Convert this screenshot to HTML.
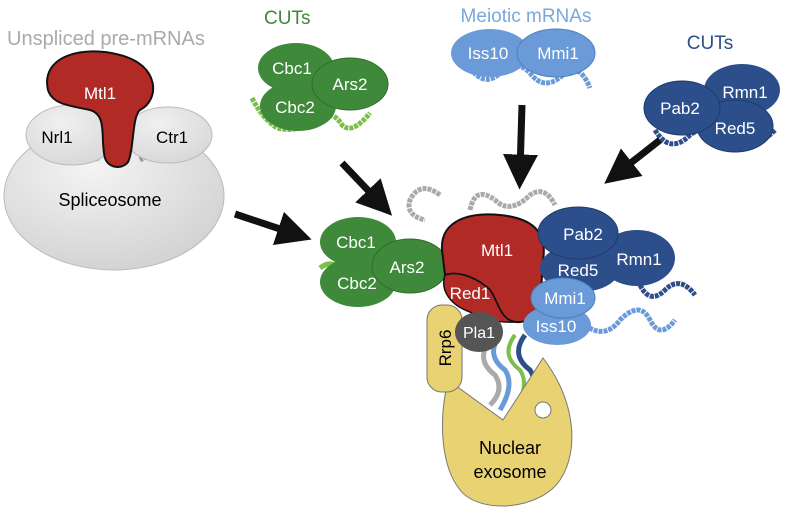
<!DOCTYPE html>
<html><head><style>body{margin:0;background:#fff}svg{display:block}</style></head><body>
<svg width="788" height="520" viewBox="0 0 788 520" xmlns="http://www.w3.org/2000/svg" font-family="Liberation Sans, sans-serif">
<defs>
<radialGradient id="sg" cx="0.4" cy="0.3" r="0.8"><stop offset="0" stop-color="#f4f4f4"/><stop offset="1" stop-color="#cfcfcf"/></radialGradient>
<radialGradient id="ng" cx="0.4" cy="0.3" r="0.8"><stop offset="0" stop-color="#f0f0f0"/><stop offset="1" stop-color="#d6d6d6"/></radialGradient>
<marker id="ah" markerWidth="5" markerHeight="5" refX="2.5" refY="2.5" orient="auto" markerUnits="strokeWidth"><path d="M0,0 L5,2.5 L0,5 z" fill="#111"/></marker>
</defs>
<!-- left -->
<text x="7" y="45" font-size="20" fill="#aaa">Unspliced pre-mRNAs</text>
<ellipse cx="114" cy="196" rx="110" ry="74" fill="url(#sg)" stroke="#bbb"/>
<path d="M70,160 q15,-10 30,0 M140,160 q15,-10 30,0" stroke="#999" stroke-width="5" fill="none" stroke-dasharray="3 1"/>
<ellipse cx="72" cy="135" rx="46" ry="30" fill="url(#ng)" stroke="#bbb"/>
<ellipse cx="168" cy="135" rx="44" ry="28" fill="url(#ng)" stroke="#bbb"/>
<path d="M48,90 C40,55 85,45 120,55 C160,65 160,100 140,110 C132,116 134,150 128,162 C122,170 108,168 105,158 C100,140 108,115 90,110 C65,105 52,103 48,90 z" fill="#b22a25" stroke="#111" stroke-width="2"/>
<text x="100" y="99" font-size="17" fill="#fff" text-anchor="middle">Mtl1</text>
<text x="57" y="143" font-size="17" text-anchor="middle">Nrl1</text>
<text x="172" y="143" font-size="17" text-anchor="middle">Ctr1</text>
<text x="110" y="206" font-size="18" text-anchor="middle">Spliceosome</text>
<!-- CUTs green -->
<text x="264" y="24" font-size="19" fill="#3f8a3a">CUTs</text>
<path d="M252,98 q10,20 25,30 q20,5 40,-8 q15,-12 25,5 q10,10 28,-12" stroke="#7bbf4a" stroke-width="5" fill="none" stroke-dasharray="4 1"/>
<ellipse cx="296" cy="68" rx="38" ry="25" fill="#3f8a3a"/>
<ellipse cx="298" cy="106" rx="38" ry="25" fill="#3f8a3a"/>
<ellipse cx="350" cy="84" rx="38" ry="26" fill="#3f8a3a" stroke="#2f6d2b"/>
<text x="292" y="74" font-size="17" fill="#fff" text-anchor="middle">Cbc1</text>
<text x="295" y="113" font-size="17" fill="#fff" text-anchor="middle">Cbc2</text>
<text x="350" y="90" font-size="17" fill="#fff" text-anchor="middle">Ars2</text>
<!-- meiotic -->
<path d="M470,68 q15,20 30,5 q15,-15 30,0 q15,20 35,0 q15,-10 25,15" stroke="#6a9bd8" stroke-width="5" fill="none" stroke-dasharray="4 1"/>
<ellipse cx="490" cy="53" rx="39" ry="24" fill="#6a9bd8"/>
<ellipse cx="556" cy="53" rx="39" ry="24" fill="#6a9bd8" stroke="#4f7fbf"/>
<text x="526" y="22" font-size="19" fill="#7aa7dc" text-anchor="middle">Meiotic mRNAs</text>
<text x="488" y="59" font-size="17" fill="#fff" text-anchor="middle">Iss10</text>
<text x="558" y="59" font-size="17" fill="#fff" text-anchor="middle">Mmi1</text>
<!-- dark blue -->
<text x="710" y="49" font-size="19" fill="#2c4f8c" text-anchor="middle">CUTs</text>
<path d="M655,130 q15,25 35,5 q20,-15 40,5 q20,15 45,-10" stroke="#2c4f8c" stroke-width="5" fill="none" stroke-dasharray="4 1"/>
<ellipse cx="742" cy="90" rx="38" ry="26" fill="#2c4f8c"/>
<ellipse cx="735" cy="126" rx="38" ry="26" fill="#2c4f8c" stroke="#1e3a6c"/>
<ellipse cx="682" cy="108" rx="38" ry="27" fill="#2c4f8c" stroke="#1e3a6c"/>
<text x="680" y="114" font-size="17" fill="#fff" text-anchor="middle">Pab2</text>
<text x="745" y="98" font-size="17" fill="#fff" text-anchor="middle">Rmn1</text>
<text x="735" y="134" font-size="17" fill="#fff" text-anchor="middle">Red5</text>
<!-- arrows -->
<g stroke="#111" stroke-width="7" fill="none" marker-end="url(#ah)">
<line x1="235" y1="214" x2="295" y2="234"/>
<line x1="342" y1="163" x2="380" y2="203"/>
<line x1="522" y1="105" x2="520" y2="172"/>
<line x1="660" y1="140" x2="618" y2="173"/>
</g>
<!-- center RNAs -->
<path d="M440,195 q-20,-15 -30,5 q-5,15 15,20 M470,210 q5,-25 25,-10 q15,15 35,-5 q15,-10 25,10" stroke="#aaa" stroke-width="5" fill="none" stroke-dasharray="4 1"/>
<path d="M320,268 q10,-8 20,0" stroke="#7bbf4a" stroke-width="5" fill="none"/>
<path d="M640,285 q10,20 25,5 q15,-15 30,5" stroke="#2c4f8c" stroke-width="5" fill="none" stroke-dasharray="4 1"/>
<path d="M585,325 q20,15 35,-5 q20,-20 30,0 q10,20 25,0" stroke="#6a9bd8" stroke-width="5" fill="none" stroke-dasharray="4 1"/>
<path d="M490,340 q-15,20 5,35 q10,15 -5,30" stroke="#aaa" stroke-width="5" fill="none"/>
<path d="M500,335 q-15,20 5,35 q10,15 -5,40" stroke="#6a9bd8" stroke-width="5" fill="none"/>
<path d="M515,335 q-15,20 5,35 q10,15 -5,40" stroke="#7bbf4a" stroke-width="4" fill="none"/>
<path d="M525,335 q-15,20 5,35 q10,15 -5,40" stroke="#2c4f8c" stroke-width="5" fill="none"/>
<!-- center green -->
<ellipse cx="358" cy="242" rx="38" ry="25" fill="#3f8a3a"/>
<ellipse cx="358" cy="282" rx="38" ry="25" fill="#3f8a3a"/>
<ellipse cx="410" cy="266" rx="38" ry="27" fill="#3f8a3a" stroke="#2f6d2b"/>
<text x="356" y="248" font-size="17" fill="#fff" text-anchor="middle">Cbc1</text>
<text x="357" y="289" font-size="17" fill="#fff" text-anchor="middle">Cbc2</text>
<text x="407" y="273" font-size="17" fill="#fff" text-anchor="middle">Ars2</text>
<!-- exosome -->
<path d="M446,390 L448,380 L503,420 L543,358 C575,400 580,450 560,480 C540,510 480,515 460,490 C440,465 440,420 446,390 z" fill="#e9d272" stroke="#777"/>
<circle cx="543" cy="410" r="8" fill="#fff" stroke="#777"/>
<text x="510" y="454" font-size="18" text-anchor="middle">Nuclear</text>
<text x="510" y="478" font-size="18" text-anchor="middle">exosome</text>
<rect x="427" y="305" width="35" height="87" rx="15" fill="#e9d272" stroke="#777"/>
<text x="0" y="0" font-size="17" transform="translate(451,348) rotate(-90)" text-anchor="middle">Rrp6</text>
<!-- Mtl1 center -->
<path d="M442,250 C440,220 470,212 500,215 C530,218 548,230 543,260 C540,290 545,320 520,322 C500,324 498,300 490,290 C480,280 460,270 445,275 z" fill="#b22a25" stroke="#111" stroke-width="2"/>
<path d="M445,275 C460,270 480,280 490,290 C498,300 500,324 520,322 L515,322 C495,323 480,318 470,312 C450,305 440,290 445,275 z" fill="#b22a25" stroke="#111" stroke-width="1.5"/>
<text x="497" y="256" font-size="17" fill="#fff" text-anchor="middle">Mtl1</text>
<text x="470" y="299" font-size="17" fill="#fff" text-anchor="middle">Red1</text>
<ellipse cx="479" cy="332" rx="24" ry="20" fill="#555"/>
<text x="479" y="338" font-size="16" fill="#fff" text-anchor="middle">Pla1</text>
<!-- right blue -->
<ellipse cx="637" cy="258" rx="38" ry="28" fill="#2c4f8c"/>
<ellipse cx="580" cy="268" rx="40" ry="24" fill="#2c4f8c"/>
<ellipse cx="578" cy="233" rx="40" ry="26" fill="#2c4f8c" stroke="#1e3a6c"/>
<text x="583" y="240" font-size="17" fill="#fff" text-anchor="middle">Pab2</text>
<text x="578" y="276" font-size="17" fill="#fff" text-anchor="middle">Red5</text>
<text x="639" y="265" font-size="17" fill="#fff" text-anchor="middle">Rmn1</text>
<ellipse cx="557" cy="325" rx="34" ry="20" fill="#6a9bd8"/>
<ellipse cx="563" cy="298" rx="32" ry="20" fill="#6a9bd8" stroke="#4f7fbf"/>
<text x="565" y="304" font-size="17" fill="#fff" text-anchor="middle">Mmi1</text>
<text x="556" y="332" font-size="17" fill="#fff" text-anchor="middle">Iss10</text>
</svg>
</body></html>
